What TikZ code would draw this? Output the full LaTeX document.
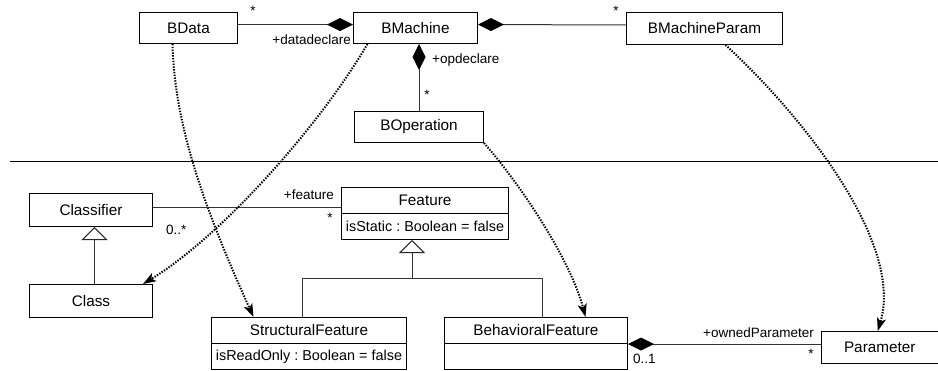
\documentclass[tikz,border=0pt]{standalone}
\usepackage{fontspec}
\setmainfont{Liberation Sans}
\usetikzlibrary{arrows.meta}
\frenchspacing
\begin{document}
\begin{tikzpicture}[x=1pt,y=-1pt,
  cls/.style={draw=black, line width=1pt, inner sep=0pt, anchor=north west, font=\fontsize{15.3}{18}\selectfont},
  attr/.style={cls, font=\fontsize{14.4}{17}\selectfont},
  lbl/.style={inner sep=0pt, font=\fontsize{13.5}{16}\selectfont, text=black},
  assoc/.style={draw=black!80, line width=1pt},
  comp/.style={assoc, {Diamond[length=26pt,width=13pt,color=black]}-},
  gen/.style={assoc, -{Triangle[open,length=13pt,width=26pt,fill=white,color=black!85]}},
  dep/.style={draw=black, line width=2pt, dash pattern=on 1.4pt off 1.4pt, -{Stealth[length=13pt,width=9pt,inset=3pt]}},
]
\useasboundingbox (0,0) rectangle (938,370);

% separator
\draw[line width=1pt] (10,161.5) coordinate (sepL) -- (938,161.5) coordinate (sepR);

% classes (top)
\node[cls, minimum width=98pt, minimum height=31pt] (BData) at (139,12) {BData};
\node[cls, minimum width=124pt, minimum height=31pt] (BMachine) at (353,12) {BMachine};
\node[cls, minimum width=156pt, minimum height=32pt] (BMachineParam) at (626,12) {BMachineParam};
\node[cls, minimum width=129pt, minimum height=31pt] (BOperation) at (354,111) {BOperation};

% classes (bottom)
\node[cls, minimum width=123pt, minimum height=33pt] (Classifier) at (29,193) {Classifier};
\node[cls, minimum width=123pt, minimum height=33pt] (Class) at (29,284) {Class};
\node[cls, minimum width=167pt, minimum height=26pt] (Feature) at (341,187) {Feature};
\node[attr, minimum width=167pt, minimum height=26pt] (FeatureAttr) at (341,213) {isStatic : Boolean = false};
\node[cls, minimum width=195pt, minimum height=26pt] (SF) at (211,317) {StructuralFeature};
\node[attr, minimum width=195pt, minimum height=26pt] (SFAttr) at (211,343) {isReadOnly : Boolean = false};
\node[cls, minimum width=183pt, minimum height=26pt] (BF) at (444,317) {BehavioralFeature};
\node[attr, minimum width=183pt, minimum height=26pt] (BFAttr) at (444,343) {};
\node[cls, minimum width=116.5pt, minimum height=32pt] (Parameter) at (821,331) {Parameter};

% compositions (top)
\draw[comp] ([yshift=3.5pt]BMachine.west) -- ([yshift=3.5pt]BData.east);
\draw[comp] ([yshift=3.5pt]BMachine.east) -- ([yshift=3.5pt]BMachineParam.west);
\draw[comp] (BMachine.south -| BOperation.north) -- (BOperation.north);

% association Classifier - Feature
\coordinate (cf) at ([yshift=2.5pt]Classifier.east);
\draw[assoc] (cf) -- (cf -| Feature.west);

% generalizations
\draw[gen] ([xshift=3.5pt]Class.north) -- ([xshift=3.5pt]Classifier.south);
\coordinate (fj) at (412,278.5);
\draw[gen] (fj) -- (fj |- FeatureAttr.south);
\draw[assoc] ([xshift=-6.5pt]SF.north) |- (fj) -| ([xshift=6.5pt]BF.north);

% composition BehavioralFeature - Parameter
\draw[comp] (BF.south east) -- (BF.south east -| Parameter.west);

% dotted mappings
\draw[dep] ([xshift=-16pt]BData.south) .. controls +(2,77) and +(-53,-117) .. ([xshift=-55.5pt]SF.north);
\draw[dep] ([xshift=-48pt]BMachine.south) .. controls +(-50,85) and +(76,-46) .. ([xshift=-10pt]Class.north east);
\draw[dep] (BOperation.south east) .. controls +(37,42) and +(-15,-57) .. ([xshift=49.5pt]BF.north);
\draw[dep] ([xshift=21pt]BMachineParam.south) .. controls +(70,64) and +(27,-91) .. ([xshift=-2pt]Parameter.north);

% labels
\node[lbl] (s1) at (253,11) {*};
\node[lbl, anchor=east] (l1) at (351,40) {+datadeclare};
\node[lbl] (s2) at (616,11) {*};
\node[lbl, anchor=west] (l2) at (432,60) {+opdeclare};
\node[lbl] (s3) at (427,95) {*};
\node[lbl, anchor=west] (l3) at (166,230) {0..*};
\node[lbl, anchor=east] (l4) at (334,195) {+feature};
\node[lbl] (s4) at (330,218) {*};
\node[lbl, anchor=east] (l5) at (814,333) {+ownedParameter};
\node[lbl, anchor=west] (l6) at (633,359) {0..1};
\node[lbl] (s5) at (811,354) {*};
\end{tikzpicture}
\end{document}
